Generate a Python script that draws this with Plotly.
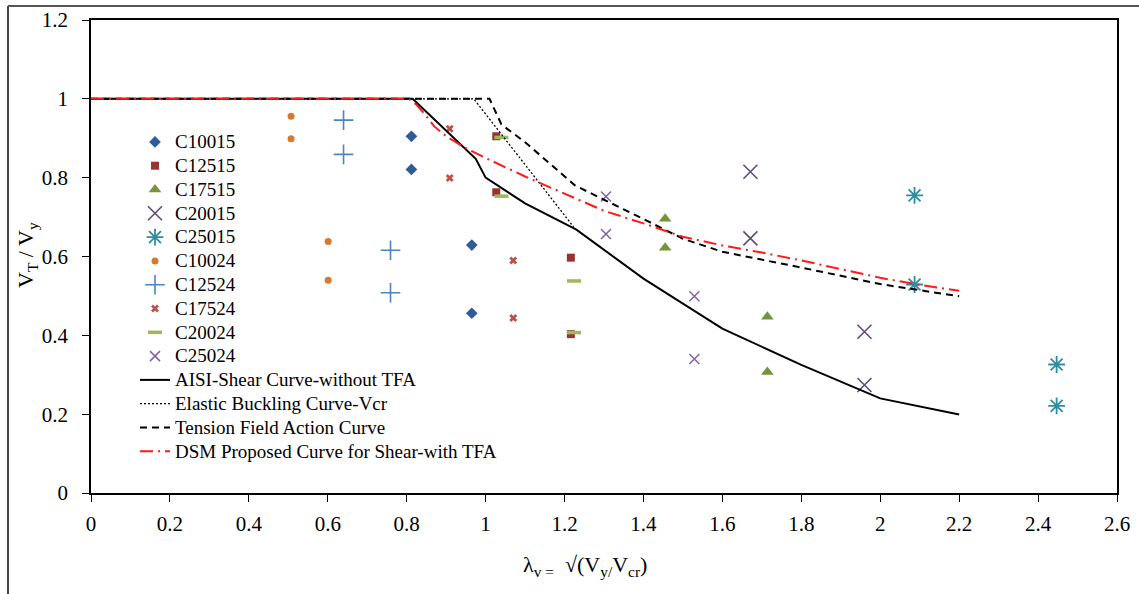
import plotly.graph_objects as go

# ---- data ----
c10015_x = [0.812, 0.812, 0.965, 0.965]
c10015_y = [0.905, 0.821, 0.629, 0.456]
c12515_x = [1.027, 1.027, 1.216, 1.216]
c12515_y = [0.905, 0.763, 0.597, 0.403]
c17515_x = [1.455, 1.455, 1.714, 1.714]
c17515_y = [0.696, 0.622, 0.447, 0.307]
c20015_x = [1.671, 1.671, 1.960, 1.960]
c20015_y = [0.815, 0.646, 0.409, 0.274]
c25015_x = [2.087, 2.087, 2.447, 2.447]
c25015_y = [0.755, 0.529, 0.326, 0.221]
c10024_x = [0.507, 0.507, 0.601, 0.601]
c10024_y = [0.956, 0.899, 0.638, 0.540]
c12524_x = [0.640, 0.640, 0.759, 0.759]
c12524_y = [0.946, 0.859, 0.616, 0.508]
c17524_x = [0.909, 0.909, 1.070, 1.070]
c17524_y = [0.924, 0.799, 0.590, 0.444]
c20024_x = [1.040, 1.040, 1.224, 1.224]
c20024_y = [0.902, 0.753, 0.538, 0.407]
c25024_x = [1.305, 1.305, 1.529, 1.529]
c25024_y = [0.752, 0.657, 0.499, 0.340]

aisi_x = [0, 0.815, 0.975, 1.0, 1.1, 1.23, 1.4, 1.6, 1.8, 2.0, 2.2]
aisi_y = [1.0, 1.0, 0.848, 0.800, 0.735, 0.668, 0.544, 0.417, 0.325, 0.240, 0.199]

elastic_x = [0, 0.970, 1.223]
elastic_y = [1.0, 1.0, 0.675]

tfa_x = [0, 1.01, 1.04, 1.1, 1.227, 1.3, 1.4, 1.5, 1.6, 1.8, 2.0, 2.2]
tfa_y = [1.0, 1.0, 0.935, 0.890, 0.780, 0.745, 0.695, 0.645, 0.612, 0.572, 0.530, 0.499]

dsm_x = [0, 0.805, 0.825, 0.845, 0.87, 0.9, 0.95, 1.0, 1.1, 1.227, 1.3, 1.4, 1.5, 1.6, 1.7, 1.8, 1.9, 2.0, 2.1, 2.2]
dsm_y = [1.0, 1.0, 0.985, 0.962, 0.930, 0.905, 0.875, 0.850, 0.803, 0.748, 0.716, 0.684, 0.650, 0.628, 0.610, 0.590, 0.568, 0.546, 0.528, 0.513]

FONT = "Liberation Serif, Times New Roman, serif"
LEG_TEXT = '<span style="font-size:19px">{}</span>'

fig = go.Figure()

def pts(name, x, y, symbol, color, size, lw=0):
    line = dict(color=color, width=lw) if lw else dict(width=0)
    fig.add_trace(go.Scatter(x=x, y=y, mode="markers", name=LEG_TEXT.format(name),
                             marker=dict(symbol=symbol, color=color, size=size, line=line)))

pts("C10015", c10015_x, c10015_y, "diamond", "#2F5C98", 9)
pts("C12515", c12515_x, c12515_y, "square", "#993333", 8)
pts("C17515", c17515_x, c17515_y, "triangle-up", "#77933C", 11)
pts("C20015", c20015_x, c20015_y, "x-thin-open", "#604A7B", 14, 1.6)
pts("C25015", c25015_x, c25015_y, "asterisk-open", "#2E8DA1", 14, 1.8)
pts("C10024", c10024_x, c10024_y, "circle", "#D47A2C", 7)
pts("C12524", c12524_x, c12524_y, "cross-thin-open", "#4A84C6", 14, 1.6)
pts("C17524", c17524_x, c17524_y, "x", "#C0504D", 7)
pts("C20024", c20024_x, c20024_y, "line-ew-open", "#9BBB59", 10, 3.5)
pts("C25024", c25024_x, c25024_y, "x-thin-open", "#8064A2", 10, 1.5)

fig.add_trace(go.Scatter(x=aisi_x, y=aisi_y, mode="lines",
                         name=LEG_TEXT.format("AISI-Shear Curve-without TFA"),
                         line=dict(color="black", width=2)))
fig.add_trace(go.Scatter(x=elastic_x, y=elastic_y, mode="lines",
                         name=LEG_TEXT.format("Elastic Buckling Curve-Vcr"),
                         line=dict(color="black", width=1.3, dash="2px,2px")))
fig.add_trace(go.Scatter(x=tfa_x, y=tfa_y, mode="lines",
                         name=LEG_TEXT.format("Tension Field Action Curve"),
                         line=dict(color="black", width=2, dash="7px,5px")))
fig.add_trace(go.Scatter(x=dsm_x, y=dsm_y, mode="lines",
                         name=LEG_TEXT.format("DSM Proposed Curve for Shear-with TFA"),
                         line=dict(color="#FF1A1A", width=2, dash="13px,5px,2px,5px")))

axis_common = dict(showgrid=False, zeroline=False, showline=True, linecolor="black", linewidth=1.5,
                   mirror=True, ticks="outside", ticklen=7, tickcolor="black", tickwidth=1.2,
                   automargin=False,
                   tickfont=dict(family=FONT, size=21, color="black"))

fig.update_xaxes(range=[0, 2.6], tick0=0, dtick=0.2, ticklabelstandoff=4, **axis_common)
fig.update_yaxes(range=[0, 1.2], tick0=0, dtick=0.2, ticklabelstandoff=10, **axis_common)

fig.add_annotation(xref="paper", yref="paper", x=(27 - 91) / 1026, y=(493 - 255) / 473,
                   xanchor="center", yanchor="middle",
                   text="V<sub>T</sub> / V<sub>y</sub>", showarrow=False, textangle=-90,
                   font=dict(family=FONT, size=22, color="black"))
fig.add_annotation(xref="paper", yref="paper", x=(585 - 91) / 1026, y=(493 - 566) / 473,
                   xanchor="center", yanchor="middle",
                   text="λ<sub>v =</sub>  √(V<sub>y/</sub>V<sub>cr</sub>)", showarrow=False,
                   font=dict(family=FONT, size=22, color="black"))

# outer frame (top and left edges visible in the reference)
fig.add_shape(type="line", xref="paper", yref="paper", x0=(8 - 91) / 1026, x1=(8 - 91) / 1026,
              y0=(493 - 594) / 473, y1=(493 - 6) / 473, line=dict(color="#444", width=2))
fig.add_shape(type="line", xref="paper", yref="paper", x0=(8 - 91) / 1026, x1=(1139 - 91) / 1026,
              y0=(493 - 6) / 473, y1=(493 - 6) / 473, line=dict(color="#555", width=2))

fig.update_layout(
    template="none",
    width=1139, height=594,
    margin=dict(l=91, r=22, t=20, b=101, autoexpand=False),
    paper_bgcolor="white", plot_bgcolor="white",
    font=dict(family=FONT, color="black"),
    legend=dict(x=(135 - 91) / 1026, y=(493 - 125) / 473, xanchor="left", yanchor="top",
                bgcolor="rgba(0,0,0,0)", borderwidth=0, font=dict(family=FONT, size=16, color="black"),
                tracegroupgap=0),
    showlegend=True,
)

fig.write_html("out.html", config={"displayModeBar": False},
               post_script="document.body.style.margin='0';document.body.style.overflow='hidden';")
